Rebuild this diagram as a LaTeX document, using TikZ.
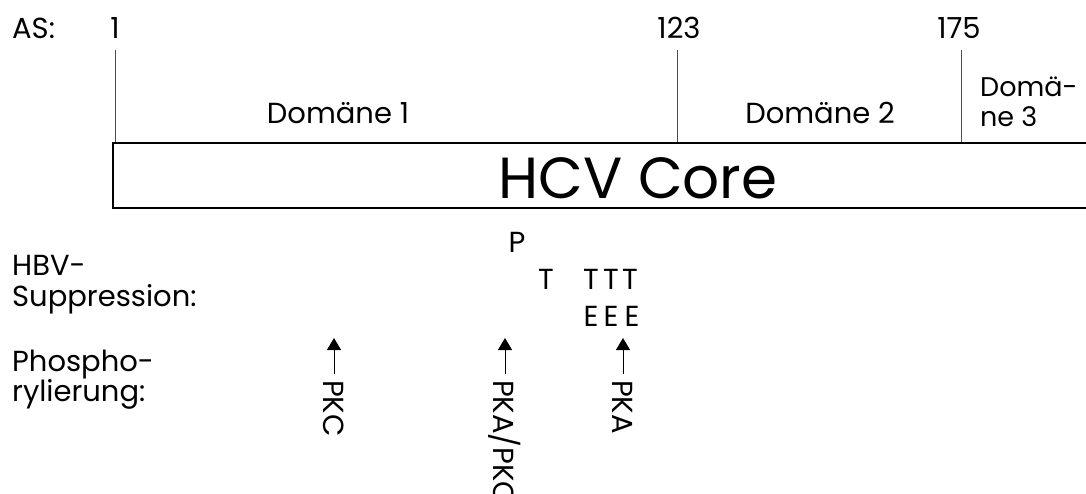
\documentclass[tikz,border=0pt]{standalone}
\usepackage{fontspec}
\setmainfont{Poppins}
\usetikzlibrary{arrows.meta}
\begin{document}
\begin{tikzpicture}[x=1pt,y=-1pt,
  txt/.style={inner sep=0pt, font=\fontsize{29}{34}\selectfont},
  small/.style={inner sep=0pt, font=\fontsize{27}{32}\selectfont},
  big/.style={inner sep=0pt, font=\fontsize{58}{64}\selectfont},
  rot/.style={txt, rotate=-90, anchor=west},
  tick/.style={draw=black!70, line width=1pt},
  boxline/.style={draw=black, line width=1.3pt},
  phos/.style={draw=black, line width=1pt, -{Triangle[length=12pt,width=14pt]}}]
\useasboundingbox (0,0) rectangle (1086,493);
% top scale
\node[txt, anchor=base west] (as) at (12,38) {AS:};
\node[txt, anchor=base] (n1) at (115,38) {1};
\node[txt, anchor=base] (n123) at (679,38) {123};
\node[txt, anchor=base] (n175) at (959,38) {175};
\coordinate (t1a) at (115,50);  \coordinate (t1b) at (115,142);
\coordinate (t2a) at (677,50);  \coordinate (t2b) at (677,142);
\coordinate (t3a) at (961,50);  \coordinate (t3b) at (961,142);
\draw[tick] (t1a) -- (t1b);
\draw[tick] (t2a) -- (t2b);
\draw[tick] (t3a) -- (t3b);
% domain labels
\node[txt, anchor=base] (d1) at (338,123) {Domäne 1};
\node[txt, anchor=base] (d2) at (820,123) {Domäne 2};
\node[small, anchor=base west] (d3a) at (980,96) {Domä-};
\node[small, anchor=base west] (d3b) at (980,126) {ne 3};
% HCV Core box (open to the right)
\coordinate (bx1) at (1086,143);
\coordinate (bx2) at (113,143);
\coordinate (bx3) at (113,208);
\coordinate (bx4) at (1086,208);
\draw[boxline] (bx1) -- (bx2) -- (bx3) -- (bx4);
\node[big, anchor=base] (core) at (638,198) {HCV Core};
% row labels
\node[txt, anchor=base west] (hbv1) at (12,275) {HBV-};
\node[txt, anchor=base west] (hbv2) at (12,306) {Suppression:};
\node[txt, anchor=base west] (ph1) at (12,371) {Phospho-};
\node[txt, anchor=base west] (ph2) at (12,401) {rylierung:};
% suppression letters
\node[txt, anchor=base] (sP) at (517,252) {P};
\node[txt, anchor=base] (sT0) at (546,289) {T};
\node[txt, anchor=base] (sT1) at (591,289) {T};
\node[txt, anchor=base] (sT2) at (611,289) {T};
\node[txt, anchor=base] (sT3) at (630,289) {T};
\node[txt, anchor=base] (sE1) at (591,326) {E};
\node[txt, anchor=base] (sE2) at (611,326) {E};
\node[txt, anchor=base] (sE3) at (632,326) {E};
% phosphorylation arrows
\node[rot] (pkc) at (334,380) {PKC};
\node[rot] (pkapkc) at (505,380) {PKA/PKC};
\node[rot] (pka) at (623,380) {PKA};
\coordinate (ah1) at (334,338);
\coordinate (ah2) at (505,338);
\coordinate (ah3) at (623,338);
\draw[phos] (pkc.west) ++(0,-6) -- (ah1);
\draw[phos] (pkapkc.west) ++(0,-6) -- (ah2);
\draw[phos] (pka.west) ++(0,-6) -- (ah3);
\end{tikzpicture}
\end{document}
